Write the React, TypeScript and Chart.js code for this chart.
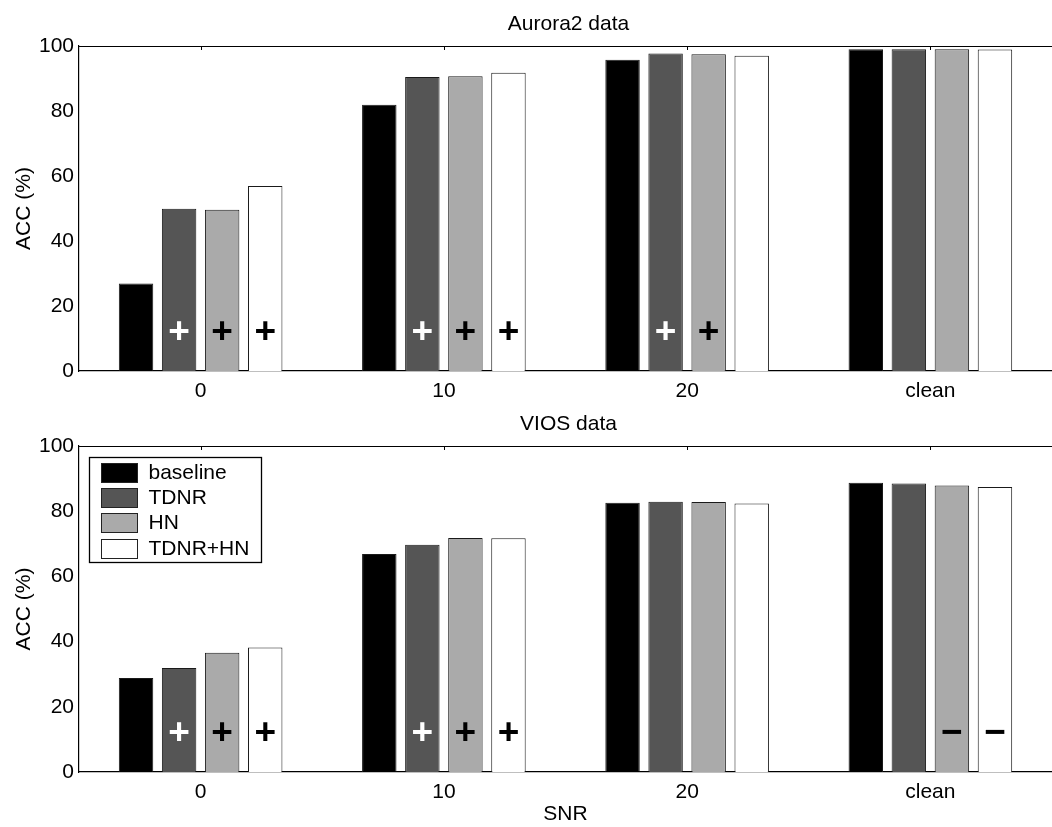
import React, { useEffect, useRef } from 'react';
import { Chart, registerables } from 'chart.js';

Chart.register(...registerables);

const FONT = '"Liberation Sans", Arial, Helvetica, sans-serif';

const categories = ['0', '10', '20', 'clean'];
const seriesNames = ['baseline', 'TDNR', 'HN', 'TDNR+HN'];
const seriesColors = ['#000000', '#555555', '#aaaaaa', '#ffffff'];
const markColors = ['#000000', '#ffffff', '#000000', '#000000'];
const yMin = 0;
const yMax = 100;
const yStep = 20;
const markLevel = 11.8;

// Aurora2 data
const auroraBaseline = [26.9, 81.9, 95.8, 99.0];
const auroraTDNR = [49.9, 90.5, 97.7, 99.0];
const auroraHN = [49.6, 90.7, 97.5, 99.0];
const auroraTDNRHN = [56.9, 91.8, 97.0, 98.9];
const auroraMarks = [
  ['', '', '', ''],
  ['+', '+', '+', ''],
  ['+', '+', '+', ''],
  ['+', '+', '', ''],
];

// VIOS data
const viosBaseline = [28.8, 66.9, 82.6, 88.7];
const viosTDNR = [31.9, 69.7, 82.9, 88.5];
const viosHN = [36.6, 71.8, 82.8, 87.9];
const viosTDNRHN = [38.2, 71.7, 82.4, 87.4];
const viosMarks = [
  ['', '', '', ''],
  ['+', '+', '', ''],
  ['+', '+', '', '\u2212'],
  ['+', '+', '', '\u2212'],
];

const framePlugin = {
  id: 'frame',
  afterDraw(chart: any, _args: any, opts: any) {
    const { ctx, chartArea } = chart;
    ctx.save();
    // title
    ctx.fillStyle = '#000';
    ctx.font = `21px ${FONT}`;
    ctx.textAlign = 'center';
    ctx.textBaseline = 'alphabetic';
    ctx.fillText(opts.title, (chartArea.left + chartArea.right) / 2 + 3, opts.titleY);
    // top border
    ctx.strokeStyle = '#000';
    ctx.lineWidth = 1.2;
    ctx.beginPath();
    ctx.moveTo(chartArea.left, chartArea.top + 0.5);
    ctx.lineTo(chartArea.right, chartArea.top + 0.5);
    ctx.stroke();
    // inward ticks on top border at category centers
    const xs = chart.scales.x;
    ctx.lineWidth = 1;
    for (let i = 0; i < categories.length; i++) {
      const x = Math.round(xs.getPixelForValue(i)) + 0.5;
      ctx.beginPath();
      ctx.moveTo(x, chartArea.top);
      ctx.lineTo(x, chartArea.top + 4);
      ctx.stroke();
    }
    ctx.restore();
  },
};

const marksPlugin = {
  id: 'marks',
  afterDatasetsDraw(chart: any, _args: any, opts: any) {
    const { ctx } = chart;
    const marks: string[][] = opts.marks || [];
    const y = chart.scales.y.getPixelForValue(markLevel);
    ctx.save();
    ctx.textAlign = 'center';
    ctx.textBaseline = 'middle';
    marks.forEach((row, i) => {
      const meta = chart.getDatasetMeta(i);
      row.forEach((m, j) => {
        if (!m) return;
        const el = meta.data[j];
        ctx.fillStyle = markColors[i];
        ctx.font = `bold 37px ${FONT}`;
        ctx.fillText(m, el.x, y);
      });
    });
    ctx.restore();
  },
};

const legendPlugin = {
  id: 'boxLegend',
  afterDraw(chart: any, _args: any, opts: any) {
    if (!opts.show) return;
    const { ctx, chartArea } = chart;
    ctx.save();
    ctx.font = `21px ${FONT}`;
    const textW = Math.max(...seriesNames.map((n) => ctx.measureText(n).width));
    const bx = Math.round(chartArea.left + 10) + 0.5;
    const by = Math.round(chartArea.top + 11) + 0.5;
    const w = Math.round(59 + textW + 12);
    const h = 105;
    ctx.fillStyle = '#ffffff';
    ctx.fillRect(bx, by, w, h);
    ctx.strokeStyle = '#000';
    ctx.lineWidth = 1.3;
    ctx.strokeRect(bx, by, w, h);
    seriesNames.forEach((n, i) => {
      const sy = Math.round(by + 5.5 + i * 25.2) + 0.5;
      ctx.fillStyle = seriesColors[i];
      ctx.fillRect(bx + 12, sy, 36, 19);
      ctx.strokeStyle = '#222';
      ctx.lineWidth = 1;
      ctx.strokeRect(bx + 12, sy, 36, 19);
      ctx.fillStyle = '#000';
      ctx.textAlign = 'left';
      ctx.textBaseline = 'middle';
      ctx.fillText(n, bx + 59, sy + 10);
    });
    ctx.restore();
  },
};

type PanelProps = {
  title: string;
  titleY: number;
  series: number[][];
  marks: string[][];
  showLegend: boolean;
  xTitle: string;
  height: number;
  xAxisHeight: number;
};

function BarPanel(props: PanelProps) {
  const ref = useRef<HTMLCanvasElement>(null);
  useEffect(() => {
    const chart = new Chart(ref.current as HTMLCanvasElement, {
      type: 'bar',
      data: {
        labels: categories,
        datasets: props.series.map((vals, i) => ({
          label: seriesNames[i],
          data: vals,
          backgroundColor: seriesColors[i],
          borderColor: '#1a1a1a',
          borderWidth: 1,
          categoryPercentage: 0.708,
          barPercentage: 0.8,
        })),
      },
      options: {
        responsive: false,
        animation: false,
        devicePixelRatio: 1,
        layout: { padding: { top: 46, left: 0, right: 0, bottom: 0 } },
        plugins: {
          legend: { display: false },
          title: { display: false },
          tooltip: { enabled: false },
          frame: { title: props.title, titleY: props.titleY },
          marks: { marks: props.marks },
          boxLegend: { show: props.showLegend },
        } as any,
        scales: {
          x: {
            type: 'category',
            offset: true,
            grid: { display: false, drawTicks: false },
            border: { display: true, color: '#000', width: 1.2 },
            ticks: { color: '#000', font: { family: FONT, size: 21 }, padding: 8, maxRotation: 0 },
            title: {
              display: !!props.xTitle,
              text: props.xTitle,
              color: '#000',
              font: { family: FONT, size: 21 },
              padding: { top: -3, bottom: 0 },
            },
            afterFit: (s: any) => {
              s.height = props.xAxisHeight;
            },
          },
          y: {
            min: yMin,
            max: yMax,
            grid: { display: false, drawTicks: false },
            border: { display: true, color: '#000', width: 1.2 },
            ticks: { stepSize: yStep, color: '#000', font: { family: FONT, size: 21 }, padding: 5 },
            title: {
              display: true,
              text: 'ACC (%)',
              color: '#000',
              font: { family: FONT, size: 21 },
              padding: { top: 12, bottom: 0 },
            },
            afterFit: (s: any) => {
              s.width = 79;
            },
          },
        } as any,
      },
      plugins: [framePlugin, marksPlugin, legendPlugin],
    });
    return () => chart.destroy();
  }, []);
  return (
    <canvas
      ref={ref}
      width={1052}
      height={props.height}
      style={{ display: 'block', width: 1052, height: props.height }}
    />
  );
}

export default function App() {
  useEffect(() => {
    document.body.style.margin = '0';
    document.body.style.background = '#ffffff';
  }, []);
  return (
    <div style={{ width: 1052, height: 827, background: '#fff', overflow: 'hidden' }}>
      <BarPanel
        title="Aurora2 data"
        titleY={30}
        series={[auroraBaseline, auroraTDNR, auroraHN, auroraTDNRHN]}
        marks={auroraMarks}
        showLegend={false}
        xTitle=""
        height={400}
        xAxisHeight={29}
      />
      <BarPanel
        title="VIOS data"
        titleY={30}
        series={[viosBaseline, viosTDNR, viosHN, viosTDNRHN]}
        marks={viosMarks}
        showLegend={true}
        xTitle="SNR"
        height={427}
        xAxisHeight={55}
      />
    </div>
  );
}
